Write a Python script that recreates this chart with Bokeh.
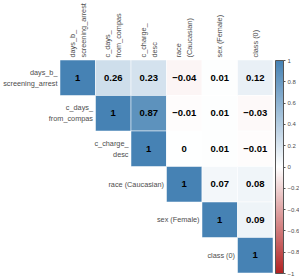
from bokeh.plotting import figure
from bokeh.models import (ColumnDataSource, Range1d, LinearColorMapper, ColorBar,
                          FixedTicker, CustomJSTickFormatter)
from bokeh.core.properties import value
from bokeh.embed import file_html
from bokeh.resources import INLINE

# ---- data ----
variables = ["days_b_\nscreening_arrest", "c_days_\nfrom_compas", "c_charge_\ndesc",
             "race\n(Caucasian)", "sex (Female)", "class (0)"]
row_labels = ["days_b_\nscreening_arrest", "c_days_\nfrom_compas", "c_charge_\ndesc",
              "race (Caucasian)", "sex (Female)", "class (0)"]
corr_rows = [
    [1, 0.26, 0.23, -0.04, 0.01, 0.12],
    [1, 0.87, -0.01, 0.01, -0.03],
    [1, 0, 0.01, -0.01],
    [1, 0.07, 0.08],
    [1, 0.09],
    [1],
]
bar_ticks = [-1, -0.8, -0.6, -0.4, -0.2, 0, 0.2, 0.4, 0.6, 0.8, 1]

# ---- palette: firebrick -> white -> steelblue ----
def lerp(c1, c2, t):
    return tuple(int(round(a + (b - a) * t)) for a, b in zip(c1, c2))

lo, mid, hi = (178, 34, 34), (255, 255, 255), (70, 130, 180)
palette = []
N = 256
for k in range(N):
    t = k / (N - 1) * 2 - 1
    c = lerp(mid, lo, -t) if t < 0 else lerp(mid, hi, t)
    palette.append("#%02x%02x%02x" % c)
mapper = LinearColorMapper(palette=palette, low=-1, high=1)

# ---- layout ----
W, H = 299, 277
CELL = 35.5
LEFT, TOP = 59.5, 59.5
n = len(variables)

x0 = -LEFT / CELL
y_top = -TOP / CELL
p = figure(width=W, height=H, output_backend="svg", toolbar_location=None,
           x_range=Range1d(x0, x0 + W / CELL),
           y_range=Range1d(y_top + H / CELL, y_top),
           x_axis_location=None, y_axis_location=None, min_border=0)
p.grid.visible = False
p.outline_line_color = None
p.background_fill_color = "white"

xs, ys, vals, txt = [], [], [], []
for i, row in enumerate(corr_rows):
    for k, v in enumerate(row):
        j = i + k
        xs.append(j + 0.5)
        ys.append(i + 0.5)
        vals.append(v)
        txt.append(str(v).replace("-", "\u2212"))
src = ColumnDataSource(dict(x=xs, y=ys, v=vals, t=txt))
p.rect("x", "y", 1, 1, source=src, fill_color={"field": "v", "transform": mapper},
       line_color="white", line_alpha=0.5, line_width=1)
p.text("x", "y", text="t", source=src, text_font=value("Liberation Sans"),
       text_font_style="bold", text_font_size="9.5px", text_color="black",
       text_align="center", text_baseline="middle")

# column labels
csrc = ColumnDataSource(dict(x=[j + 0.5 for j in range(n)], y=[0] * n, t=variables))
p.text("x", "y", text="t", source=csrc, angle=1.5708, y_offset=-2.5,
       text_font=value("Liberation Sans"), text_font_size="7.3px", text_color="#4d4d4d",
       text_align="left", text_baseline="middle", text_line_height=1.25)

# row labels
rsrc = ColumnDataSource(dict(x=list(range(n)), y=[i + 0.5 for i in range(n)], t=row_labels))
p.text("x", "y", text="t", source=rsrc, x_offset=-2.5,
       text_font=value("Liberation Sans"), text_font_size="7.3px", text_color="#4d4d4d",
       text_align="right", text_baseline="middle", text_line_height=1.25)

cb = ColorBar(color_mapper=mapper,
              location=(int(round(LEFT + n * CELL + 2.5)), int(round(H - TOP - n * CELL))),
              width=8, height=int(round(n * CELL)), padding=0, margin=0,
              ticker=FixedTicker(ticks=bar_ticks),
              formatter=CustomJSTickFormatter(code="return String(Math.round(tick*10)/10).replace('-', '\u2212');"),
              bar_line_color="#555555", bar_line_width=1,
              major_tick_in=0, major_tick_out=2, major_tick_line_color="#555555",
              minor_tick_line_color=None, label_standoff=2,
              major_label_text_font="Liberation Sans",
              major_label_text_font_size="6px", major_label_text_color="#4d4d4d",
              background_fill_alpha=0, border_line_color=None)
p.add_layout(cb, "center")

open("out.html", "w").write(file_html(p, INLINE))
